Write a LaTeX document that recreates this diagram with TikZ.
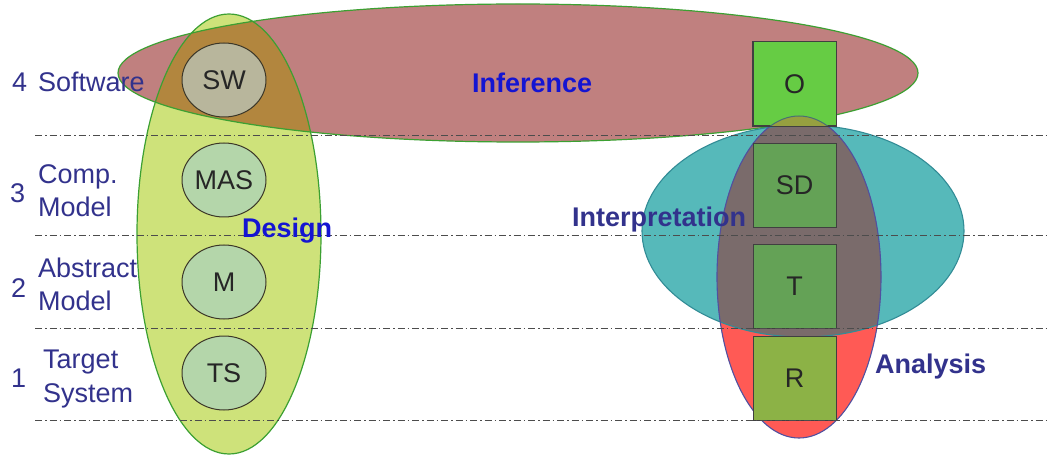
\documentclass[tikz,border=0pt]{standalone}
\usepackage{fontspec}
\setmainfont{Liberation Sans}
\usetikzlibrary{shapes.geometric}
\definecolor{designfill}{RGB}{206,226,122}
\definecolor{designline}{RGB}{60,160,50}
\definecolor{inffill}{RGB}{192,128,127}
\definecolor{brownmix}{RGB}{178,134,62}
\definecolor{swfill}{RGB}{184,182,156}
\definecolor{circfill}{RGB}{180,214,170}
\definecolor{circline}{RGB}{60,55,40}
\definecolor{tealfill}{RGB}{86,185,186}
\definecolor{tealline}{RGB}{50,140,150}
\definecolor{redfill}{RGB}{255,90,85}
\definecolor{redline}{RGB}{80,80,160}
\definecolor{graymix}{RGB}{122,107,107}
\definecolor{boxO}{RGB}{102,204,68}
\definecolor{boxmid}{RGB}{100,162,86}
\definecolor{boxR}{RGB}{140,178,70}
\definecolor{domefill}{RGB}{150,160,64}
\definecolor{txtblue}{RGB}{50,50,140}
\definecolor{brightblue}{RGB}{20,20,210}
\begin{document}
\begin{tikzpicture}[x=1pt,y=-1pt,
  big/.style={font=\fontsize{27}{33}\selectfont},
  lvl/.style={big,text=txtblue,anchor=base west,inner sep=0pt,align=left},
  area/.style={big,font=\fontsize{27}{33}\selectfont\bfseries,anchor=base west,inner sep=0pt},
  circ/.style={ellipse,draw=circline,line width=1pt,minimum width=84pt,minimum height=74pt,inner sep=0pt,big,text=black!85},
  sq/.style={rectangle,draw=black!75,line width=1pt,minimum width=83pt,minimum height=84pt,inner sep=0pt,big,text=black!85},
  sep/.style={draw=black!70,line width=0.9pt,dash pattern=on 7pt off 3pt on 1.5pt off 3pt}]
\useasboundingbox (0,0) rectangle (1047,457);
% Design and Inference
\fill[designfill] (229,234) ellipse [x radius=92, y radius=220];
\fill[inffill] (518,73) ellipse [x radius=400, y radius=69];
\begin{scope}
  \clip (229,234) ellipse [x radius=92, y radius=220];
  \fill[brownmix] (518,73) ellipse [x radius=400, y radius=69];
\end{scope}
\draw[designline,line width=1.2pt] (229,234) ellipse [x radius=92, y radius=220];
\draw[designline,line width=1.2pt] (518,73) ellipse [x radius=400, y radius=69];
% Interpretation and Analysis
\fill[tealfill] (803,231) ellipse [x radius=161, y radius=106];
\fill[redfill] (799,277) ellipse [x radius=82, y radius=161];
\begin{scope}
  \clip (803,231) ellipse [x radius=161, y radius=106];
  \fill[graymix] (799,277) ellipse [x radius=82, y radius=161];
\end{scope}
\draw[tealline,line width=1.1pt] (803,231) ellipse [x radius=161, y radius=106];
\draw[redline,line width=1.1pt] (799,277) ellipse [x radius=82, y radius=161];
% circles
\node[circ,fill=swfill] (sw) at (224,80) {SW};
\node[circ,fill=circfill] (mas) at (224,180) {MAS};
\node[circ,fill=circfill] (m) at (224,282) {M};
\node[circ,fill=circfill] (ts) at (224,373) {TS};
% boxes
\node[sq,fill=boxO] (o) at (794.5,84) {O};
\node[sq,fill=boxmid] (sd) at (794.5,185.5) {SD};
\node[sq,fill=boxmid] (t) at (794.5,286.5) {T};
\node[sq,fill=boxR] (r) at (794.5,378.5) {R};
\begin{scope}
  \clip (o.south west) rectangle (o.north east);
  \fill[domefill] (799,277) ellipse [x radius=82, y radius=161];
  \draw[redline!60!designline,line width=1pt] (799,277) ellipse [x radius=82, y radius=161];
\end{scope}
\draw[black!75,line width=1pt] (o.south west) rectangle (o.north east);
% separators
\foreach \yy/\nm in {135/a,235/b,328/c,420/d}{
  \coordinate (s\nm1) at (35,\yy);
  \coordinate (s\nm2) at (1047,\yy);
  \draw[sep] (s\nm1) -- (s\nm2);
}
% level labels
\node[lvl] (n4) at (12,92) {4};
\node[lvl] (l4) at (38,92) {Software};
\node[lvl] (n3) at (10,203) {3};
\node[lvl] (l3) at (38,217) {Comp.\\Model};
\node[lvl] (n2) at (11,297) {2};
\node[lvl] (l2) at (38,310) {Abstract\\Model};
\node[lvl] (n1) at (11,387) {1};
\node[lvl,font=\fontsize{27}{34}\selectfont] (l1) at (43,402) {Target\\System};
% area labels
\node[area,text=brightblue] (inf) at (472,93) {Inference};
\node[area,text=brightblue] (des) at (242,238) {Design};
\node[area,text=txtblue] (intp) at (572,227) {Interpretation};
\node[area,text=txtblue] (ana) at (875,373) {Analysis};
\end{tikzpicture}
\end{document}
